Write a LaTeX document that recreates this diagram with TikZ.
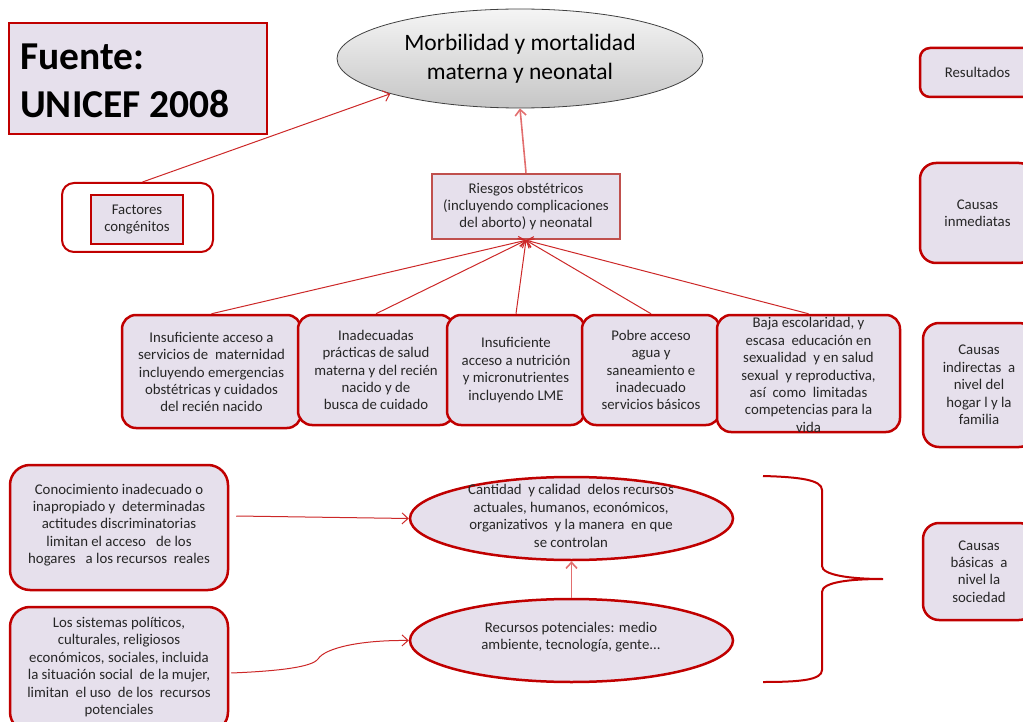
\documentclass[tikz,border=0pt]{standalone}
\usepackage{fontspec}
\setmainfont{Carlito}
\usetikzlibrary{shapes.geometric,arrows.meta,calc}
\definecolor{dred}{RGB}{192,0,0}
\definecolor{lav}{RGB}{230,224,236}
\definecolor{mred}{RGB}{192,80,77}
\definecolor{cred}{RGB}{204,40,40}
\definecolor{pred}{RGB}{226,110,110}
\begin{document}
\begin{tikzpicture}[x=1pt,y=-1pt,
  box/.style={draw=dred,line width=2.5pt,fill=lav,rounded corners=14pt,inner sep=0pt},
  sq/.style={draw=dred,line width=2.5pt,fill=lav,inner sep=0pt},
  ell/.style={ellipse,draw=dred,line width=2.5pt,fill=lav,inner sep=0pt},
  txt/.style={align=center,font=\fontsize{14.8}{17.4}\selectfont,text=black!85,inner sep=0pt},
  conn/.style={draw=cred,line width=1pt,-{Straight Barb[length=6pt,width=11pt]}},
  pconn/.style={draw=pred,line width=1.6pt,-{Straight Barb[length=6pt,width=11pt]}},
  sz/.style 2 args={minimum width=#1,minimum height=#2}]
\useasboundingbox (0,0) rectangle (1023,722);
\clip (0,0) rectangle (1023,722);

% source box
\node[sq,sz={258pt}{111pt}] (src) at (138,78.5) {};
\node[anchor=west,align=left,font=\bfseries\fontsize{39.5}{48}\selectfont,inner sep=0pt] (srct) at (20,81) {Fuente:\\UNICEF 2008};

% top ellipse
\node[ellipse,draw=black!75,line width=0.8pt,top color=gray!8,bottom color=gray!45,sz={366pt}{99pt},inner sep=0pt,align=center,font=\fontsize{23.5}{29}\selectfont] (top) at (520,58.5) {Morbilidad y mortalidad\\materna y neonatal};

% factores
\node[draw=dred,line width=2pt,fill=white,rounded corners=12pt,sz={151pt}{69pt}] (fo) at (137.5,217.5) {};
\node[sq,txt,sz={92pt}{49pt}] (fi) at (137,219.5) {Factores\\congénitos};

% riesgos
\node[sq,draw=mred,txt,sz={188pt}{65pt}] (rg) at (526,206.5) {Riesgos obstétricos\\(incluyendo complicaciones\\del aborto) y neonatal};

\draw[conn] ([xshift=5pt]fo.north) -- (top.south west);
\draw[pconn] (rg.north) -- (top.south);

% five boxes
\node[box,sz={179pt}{113pt}] (b1) at (211.5,371.5) {};
\node[box,sz={156pt}{110pt}] (b2) at (376,370) {};
\node[box,sz={138pt}{110pt}] (b3) at (516,370) {};
\node[box,sz={138pt}{110pt}] (b4) at (651,370) {};
\node[box,sz={183pt}{117pt}] (b5) at (808.5,373.5) {};
\node[txt] (t1) at (211.5,372) {Insuficiente acceso a\\servicios de\ \ maternidad\\incluyendo emergencias\\obstétricas y cuidados\\del recién nacido};
\node[txt] (t2) at (376,370) {Inadecuadas\\prácticas de salud\\materna y del recién\\nacido y de\\busca de cuidado};
\node[txt] (t3) at (516,370) {Insuficiente\\acceso a nutrición\\y micronutrientes\\incluyendo LME};
\node[txt] (t4) at (651,370) {Pobre acceso\\agua y\\saneamiento e\\inadecuado\\servicios básicos};
\node[txt] (t5) at (808.5,375) {Baja escolaridad, y\\escasa\ \ educación en\\sexualidad\ \ y en salud\\sexual\ \ y reproductiva,\\así\ \ como\ \ limitadas\\competencias para la\\vida};
\foreach \b in {b1,b2,b3,b4,b5} \draw[conn] (\b.north) -- (rg.south);

% right column
\node[box,rounded corners=10pt,txt,sz={115pt}{49pt}] (r1) at (977.5,72.5) {Resultados};
\node[box,rounded corners=16pt,txt,sz={115pt}{100pt}] (r2) at (977.5,213) {Causas\\inmediatas};
\node[box,rounded corners=16pt,txt,sz={112pt}{124pt}] (r3) at (979,385) {Causas\\indirectas\ \ a\\nivel del\\hogar l y la\\familia};
\node[box,rounded corners=16pt,txt,sz={112pt}{97pt}] (r4) at (979,571.5) {Causas\\básicas\ \ a\\nivel la\\sociedad};

% bottom left boxes
\node[box,rounded corners=20pt,sz={218pt}{125pt}] (co) at (119,527.5) {};
\node[txt] (cot) at (119,525) {Conocimiento inadecuado o\\inapropiado y\ \ determinadas\\actitudes discriminatorias\\limitan el acceso\ \ \ de los\\hogares\ \ \ a los recursos\ \ reales};
\node[box,rounded corners=20pt,sz={218pt}{125pt}] (ls) at (119,669.5) {};
\node[txt] (lst) at (119,667) {Los sistemas políticos,\\culturales, religiosos\\económicos, sociales, incluida\\la situación social\ \ de la mujer,\\limitan\ \ el uso\ \ de los\ \ recursos\\potenciales};

% ellipses
\node[ell,sz={323pt}{83pt}] (ca) at (571.5,518.5) {};
\node[txt] (cat) at (571,516) {Cantidad\ \ y calidad\ \ delos recursos\\actuales, humanos, económicos,\\organizativos\ \ y la manera\ \ en que\\se controlan};
\node[ell,sz={323pt}{83pt}] (rp) at (571.5,640.5) {};
\node[txt] (rpt) at (571,637) {Recursos potenciales: medio\\ambiente, tecnología, gente...};

\draw[pconn] (rp.north) -- (ca.south);
\draw[conn] ($(co.east)+(7,-11.5)$) -- (ca.west);
\coordinate (k) at (318,659);
\draw[conn] ($(ls.east)+(2,3.5)$) .. controls (280,671) and (312,667) .. (k) .. controls (325,648) and (360,640) .. (rp.west);

% brace
\draw[draw=dred,line width=2pt] (763,476) .. controls (800,477) and (822,480) .. (822,490) -- (822,566) .. controls (822,575) and (850,579) .. (883,579) .. controls (850,579) and (822,582) .. (822,592) -- (822,670) .. controls (822,680) and (800,682) .. (763,682);
\end{tikzpicture}
\end{document}
